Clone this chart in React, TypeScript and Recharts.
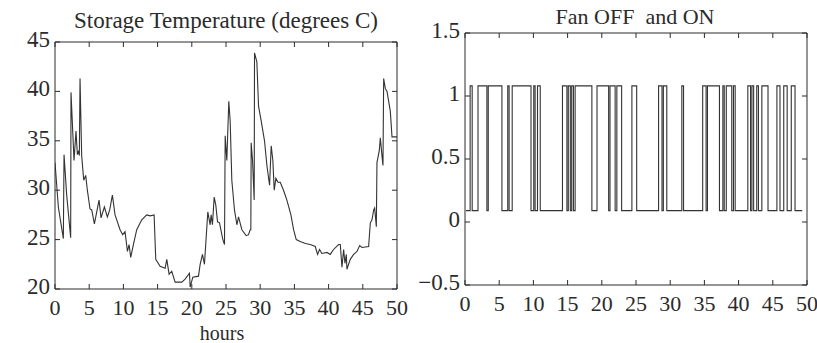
import { LineChart, Line, XAxis, YAxis } from 'recharts'

// storage temperature
const hours = [
  0, 0.49, 1.22, 1.32, 1.71, 2.29, 2.34, 2.78, 3.07, 3.27, 3.46, 3.56, 3.66, 3.9, 4.2, 4.49, 4.73, 5.12, 5.37, 5.76,
  6.44, 6.73, 7.22, 7.66, 8.0, 8.39, 8.78, 9.51, 9.9, 10.24, 10.59, 10.83, 11.07, 11.46, 11.95, 12.68, 13.41, 13.9, 14.49, 14.73,
  15.37, 16.1, 16.34, 16.68, 17.07, 17.56, 18.54, 19.02, 19.66, 19.76, 20.15, 20.98, 21.22, 21.56, 21.85, 22.34, 22.68, 22.83, 23.02, 23.27,
  23.51, 23.76, 24.05, 24.54, 24.78, 24.88, 25.12, 25.41, 25.61, 25.85, 26.24, 26.59, 26.83, 27.32, 27.95, 28.29, 28.54, 28.63, 28.68, 28.88,
  29.12, 29.17, 29.51, 29.76, 30.15, 30.63, 30.98, 31.37, 31.61, 31.85, 32.05, 32.29, 32.59, 32.93, 33.41, 33.9, 34.49, 34.88, 35.27, 35.85,
  36.59, 37.32, 38.05, 38.39, 38.68, 39.02, 39.76, 40.24, 40.73, 41.46, 41.71, 41.95, 42.2, 42.39, 42.59, 42.68, 43.17, 43.66, 44.0, 44.15,
  44.54, 44.88, 45.85, 46.1, 46.34, 46.59, 46.73, 46.98, 47.07, 47.41, 47.56, 47.8, 47.95, 48.05, 48.29, 48.54, 49.02, 49.27, 50,
]
const temperature = [
  32.8, 28.3, 25.1, 33.6, 29.5, 25.2, 39.9, 33, 36, 33.6, 34, 33.5, 41.3, 33.5, 31, 31.5, 30, 28.1, 28, 26.6,
  29, 27.2, 28.3, 27.3, 28, 29.5, 27.5, 26, 25.5, 25.8, 23.8, 24.5, 23.2, 24.5, 26, 27, 27.5, 27.4, 27.5, 23,
  22.3, 22.1, 23, 21.5, 21.8, 20.7, 20.7, 21, 21.6, 20.2, 21.2, 21.3, 22.5, 23.5, 22.5, 27.8, 26.5, 27.5, 26.5, 29.3,
  28.5, 26.8, 26.7, 25, 24.5, 35.5, 33, 39, 37, 31, 28, 26.5, 27.3, 26, 25.4, 25.5, 26, 26, 34.8, 33,
  29, 43.9, 43, 38.5, 37, 35, 32.5, 30.5, 34.5, 33, 30, 31.2, 30.8, 30.8, 30, 29, 27.5, 26, 25, 24.8,
  24.6, 24.5, 24.3, 23.5, 24, 23.6, 23.7, 23.5, 24, 24.5, 24.5, 22.2, 24, 22.6, 23.5, 22, 23, 23.5, 23.7, 23.8,
  24.4, 24.2, 24.3, 26.7, 27, 28, 28.2, 26.3, 32.8, 34, 35.3, 33.5, 32.5, 41.3, 40.3, 40, 38, 35.4, 35.4,
]

// fan switching times and the level held from each time on
const fanTimes = [
  0.15, 0.75, 1.05, 1.9, 3.2, 3.4, 5.4, 6.25, 6.45, 6.9, 9.65, 10.05, 10.25, 10.6, 11.0, 14.25, 14.9, 15.1, 15.4, 15.6,
  15.85, 16.1, 18.55, 19.3, 21.0, 21.2, 21.95, 22.2, 22.9, 24.4, 25.1, 28.3, 28.8, 29.0, 29.5, 31.7, 31.95, 34.75, 35.25, 35.45,
  37.2, 37.7, 37.9, 38.2, 39.0, 39.25, 39.5, 41.35, 41.75, 41.95, 42.2, 42.65, 42.9, 43.4, 44.3, 45.6, 46.05, 46.6, 47.1, 47.7,
  48.25, 49.3,
]
const fanLevels = [
  0.09, 1.08, 0.09, 1.08, 0.09, 1.08, 0.09, 1.08, 0.09, 1.08, 0.09, 1.08, 0.09, 1.08, 0.09, 1.08, 0.09, 1.08, 0.09, 1.08,
  0.09, 1.08, 0.09, 1.08, 0.09, 1.08, 0.09, 1.08, 0.09, 1.08, 0.09, 1.08, 0.09, 1.08, 0.09, 1.08, 0.09, 1.08, 0.09, 1.08,
  0.09, 1.08, 0.09, 1.08, 0.09, 1.08, 0.09, 1.08, 0.09, 1.08, 0.09, 1.08, 0.09, 1.08, 0.09, 1.08, 0.09, 1.08, 0.09, 1.08,
  0.09, 0.09,
]

const hourTicks = [0, 5, 10, 15, 20, 25, 30, 35, 40, 45, 50]
const tempTicks = [20, 25, 30, 35, 40, 45]
const fanTicks = [-0.5, 0, 0.5, 1, 1.5]

const tempData = hours.map((h, i) => ({ h, t: temperature[i] }))
const fanData = fanTimes.map((h, i) => ({ h, f: fanLevels[i] }))

const INK = '#2b2b2b'
const FONT = '"Liberation Serif", "DejaVu Serif", serif'
const TICK_LEN = 5

const fmt = (v: number) => (v < 0 ? '\u2212' + Math.abs(v) : String(v))

// MATLAB-style ticks: marks point into the plot box
function makeTick(side: 'bottom' | 'top' | 'left' | 'right', withLabel: boolean) {
  return (props: any) => {
    const { x, y, payload } = props
    let mark
    if (side === 'bottom') mark = <line x1={x} y1={y} x2={x} y2={y - TICK_LEN} stroke={INK} />
    else if (side === 'top') mark = <line x1={x} y1={y} x2={x} y2={y + TICK_LEN} stroke={INK} />
    else if (side === 'left') mark = <line x1={x} y1={y} x2={x + TICK_LEN} y2={y} stroke={INK} />
    else mark = <line x1={x} y1={y} x2={x - TICK_LEN} y2={y} stroke={INK} />
    let label = null
    if (withLabel && side === 'bottom')
      label = (
        <text x={x} y={y + 26} textAnchor="middle" fill={INK} fontSize={22} fontFamily={FONT}>
          {fmt(payload.value)}
        </text>
      )
    if (withLabel && side === 'left')
      label = (
        <text x={x - 5} y={y + 5} textAnchor="end" fill={INK} fontSize={23} fontFamily={FONT}>
          {fmt(payload.value)}
        </text>
      )
    return (
      <g>
        {mark}
        {label}
      </g>
    )
  }
}

function Panel({ data, dataKey, domain, yTicks, step, margin, width }: any) {
  return (
    <LineChart width={width} height={343} data={data} margin={margin}>
      <XAxis dataKey="h" type="number" domain={[0, 50]} ticks={hourTicks} allowDataOverflow height={1}
        axisLine={{ stroke: INK }} tickLine={false} tickSize={0} tickMargin={0} tick={makeTick('bottom', true)} />
      <XAxis xAxisId="top" orientation="top" dataKey="h" type="number" domain={[0, 50]} ticks={hourTicks} allowDataOverflow
        height={1} axisLine={{ stroke: INK }} tickLine={false} tickSize={0} tickMargin={0} tick={makeTick('top', false)} />
      <YAxis type="number" domain={domain} ticks={yTicks} allowDataOverflow width={1}
        axisLine={{ stroke: INK }} tickLine={false} tickSize={0} tickMargin={0} tick={makeTick('left', true)} />
      <YAxis yAxisId="right" orientation="right" type="number" domain={domain} ticks={yTicks} allowDataOverflow width={1}
        axisLine={{ stroke: INK }} tickLine={false} tickSize={0} tickMargin={0} tick={makeTick('right', false)} />
      <Line dataKey={dataKey} type={step ? 'stepAfter' : 'linear'} stroke="#333" strokeWidth={1.1} dot={false} isAnimationActive={false} />
    </LineChart>
  )
}

export default function App() {
  return (
    <div style={{ position: 'absolute', left: 0, top: 0, width: 817, height: 343, background: '#fff' }}>
      <div style={{ position: 'absolute', left: 0, top: 0 }}>
        <Panel data={tempData} dataKey="t" domain={[20, 45]} yTicks={tempTicks} width={410}
          margin={{ top: 41, right: 12, bottom: 53, left: 54 }} />
      </div>
      <div style={{ position: 'absolute', left: 410, top: 0 }}>
        <Panel data={fanData} dataKey="f" domain={[-0.5, 1.5]} yTicks={fanTicks} step width={407}
          margin={{ top: 32, right: 9, bottom: 57, left: 54 }} />
      </div>
      <svg width={817} height={343} style={{ position: 'absolute', left: 0, top: 0, pointerEvents: 'none' }}>
        <text x={226} y={28} textAnchor="middle" fill={INK} fontSize={23} fontFamily={FONT}>
          Storage Temperature (degrees C)
        </text>
        <text x={635} y={24} textAnchor="middle" fill={INK} fontSize={22} fontFamily={FONT} style={{ whiteSpace: 'pre' }}>
          {'Fan OFF  and ON'}
        </text>
        <text x={222} y={340} textAnchor="middle" fill={INK} fontSize={20} fontFamily={FONT}>
          hours
        </text>
      </svg>
    </div>
  )
}
